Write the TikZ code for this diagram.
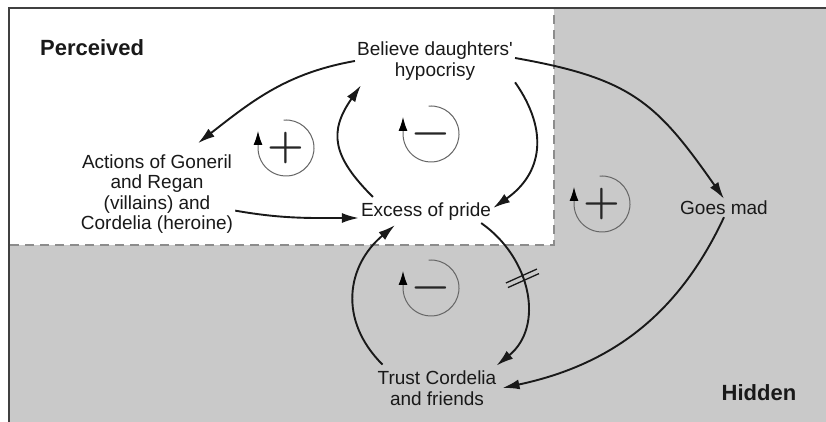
\documentclass[tikz,border=0pt]{standalone}
\usepackage{fontspec}
\newfontfamily\labelfont{Liberation Sans}
\usetikzlibrary{arrows.meta,decorations.markings}
\definecolor{hiddengrey}{gray}{0.79}
\definecolor{dashgrey}{gray}{0.55}

\begin{document}
\begin{tikzpicture}[x=1pt, y=1pt,
    lbl/.style={font=\labelfont\fontsize{19}{20.5}\selectfont, align=center, inner sep=2pt, text=black!90},
    region/.style={font=\labelfont\bfseries\fontsize{22}{26}\selectfont, inner sep=2pt, text=black!90},
    link/.style={line width=1.9pt, black!90, -{Latex[length=17pt,width=10pt]}},
    loopcirc/.style={line width=1pt, black!60, -{Latex[length=14pt,width=9pt,color=black]}},
    signtext/.style={font=\bfseries\fontsize{42}{42}\selectfont, inner sep=0pt, anchor=base, yshift=-10.5pt, text=black!85},
    delay/.style={postaction={decorate, decoration={markings, mark=at position 0.42 with
      {\draw[-, line width=1.3pt, rotate=7] (-2.5,-17) -- (-2.5,17) (2.5,-17) -- (2.5,17);}}}}]

  % hidden part grey, perceived part white
  \path[use as bounding box, fill=white] (0,0) rectangle (826,422);
  \fill[hiddengrey] (9,0) rectangle (826,414);
  \fill[white] (9,177) rectangle (554,414);
  \draw[dashgrey, line width=1.8pt, dash pattern=on 9pt off 6pt] (10,177) -- (554,177) -- (554,413);
  \draw[black!75, line width=2.5pt] (9,0) -- (9,414) -- (826,414);

  \node[region, anchor=west] (perceived) at (38,374) {Perceived};
  \node[region] (hidden) at (759,29) {Hidden};
  \node[lbl] (believe) at (435,361) {Believe daughters'\\hypocrisy};
  \node[lbl] (actions) at (157,228) {Actions of Goneril\\and Regan\\(villains) and\\Cordelia (heroine)};
  \node[lbl] (excess) at (426,210) {Excess of pride};
  \node[lbl] (goesmad) at (724,214) {Goes mad};
  \node[lbl] (trust) at (437,34) {Trust Cordelia\\and friends};

  % loop signs
  \foreach \cx/\cy/\sgn [count=\i] in {286/274/+, 431/288/−, 602/218/+, 431/134/−} {
    \draw[loopcirc] (\cx,\cy) ++(95:28) arc[start angle=95, end angle=-180, radius=28] -- ++(0,17);
    \node[signtext] (sign\i) at (\cx,\cy) {\sgn};
  }

  \draw[link] (believe.west) to[out=190, in=38] ([shift={(41,9)}]actions.north);
  \draw[link] ([shift={(14,4)}]excess.north west) to[out=135, in=-125, looseness=1.3] ([shift={(6,-3)}]believe.south west);
  \draw[link] (believe.south east) to[out=-55, in=35, looseness=1.2] ([yshift=4pt]excess.east);
  \draw[link] (actions.-12) to[out=-10, in=180] ([yshift=-6pt]excess.west);
  \draw[link] ([yshift=3pt]believe.east) to[out=-10, in=125, looseness=1.2] (goesmad.north);
  \draw[link] (goesmad.south) to[out=245, in=12] ([xshift=4pt]trust.east);
  \draw[link, delay] ([xshift=-12pt]excess.south east) to[out=-35, in=39, looseness=1.1] ([shift={(-2,3)}]trust.north east);
  \draw[link] ([shift={(7,4)}]trust.north west) to[out=135, in=-140, looseness=1.15] ([shift={(-31,-2)}]excess.south);
\end{tikzpicture}
\end{document}
